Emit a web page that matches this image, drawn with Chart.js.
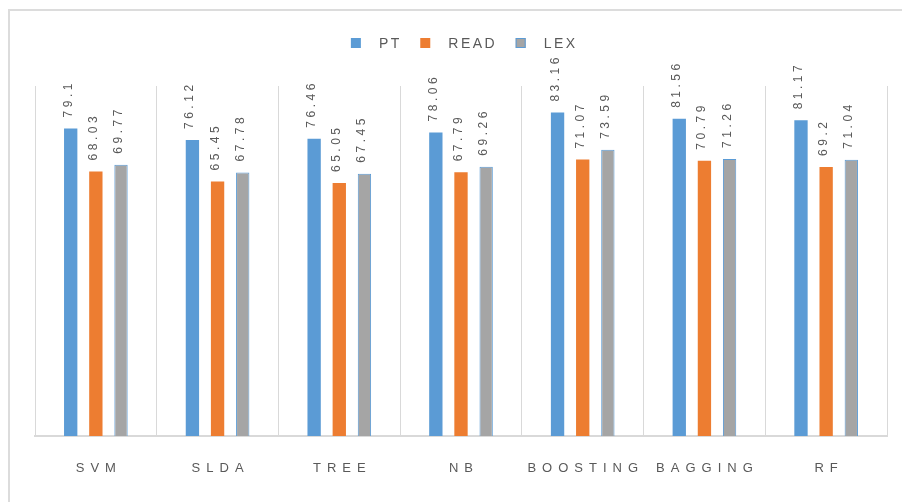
<!DOCTYPE html>
<html>
<head>
<meta charset="utf-8">
<title>Classifier scores by feature set</title>
<script src="https://cdn.jsdelivr.net/npm/chart.js@4.4.1/dist/chart.umd.min.js"></script>
<style>
  html, body { margin: 0; padding: 0; background: #ffffff; }
  #wrap { width: 902px; height: 502px; position: relative; }
  canvas { display: block; }
</style>
</head>
<body>
<div id="wrap"><canvas id="chart" width="902" height="502"></canvas></div>
<script>
// Classifiers on the category axis
const categories = ['SVM', 'SLDA', 'TREE', 'NB', 'BOOSTING', 'BAGGING', 'RF'];

// Scores per feature set
const ptValues   = [79.1, 76.12, 76.46, 78.06, 83.16, 81.56, 81.17];
const readValues = [68.03, 65.45, 65.05, 67.79, 71.07, 70.79, 69.2];
const lexValues  = [69.77, 67.78, 67.45, 69.26, 73.59, 71.26, 71.04];

const seriesNames = ['PT', 'READ', 'LEX'];

const TEXT = '#595959';
const GRID = '#d9d9d9';
const FONT = '"Liberation Sans", Arial, sans-serif';

// Frame, legend, category labels and value labels
const decorations = {
  id: 'decorations',
  beforeDraw(chart) {
    const ctx = chart.ctx;
    ctx.save();
    ctx.fillStyle = '#ffffff';
    ctx.fillRect(0, 0, chart.width, chart.height);
    ctx.strokeStyle = '#dcdcdc';
    ctx.lineWidth = 2;
    ctx.beginPath();
    ctx.moveTo(9, chart.height);
    ctx.lineTo(9, 10);
    ctx.lineTo(chart.width, 10);
    ctx.stroke();
    ctx.restore();
  },
  afterDatasetsDraw(chart) {
    const ctx = chart.ctx;
    // value labels, rotated, just above each bar
    ctx.save();
    ctx.fillStyle = TEXT;
    ctx.font = '12px ' + FONT;
    ctx.letterSpacing = '3.5px';
    ctx.textAlign = 'left';
    ctx.textBaseline = 'alphabetic';
    chart.data.datasets.forEach((ds, di) => {
      const meta = chart.getDatasetMeta(di);
      meta.data.forEach((bar, i) => {
        ctx.save();
        ctx.translate(bar.x + 1, bar.y - 11);
        ctx.rotate(-Math.PI / 2);
        ctx.fillText(String(ds.data[i]), 0, 0);
        ctx.restore();
      });
    });
    ctx.restore();
  },
  afterDraw(chart) {
    const ctx = chart.ctx;
    const xs = chart.scales.x;
    // category labels with wide tracking
    ctx.save();
    ctx.fillStyle = TEXT;
    ctx.font = '13px ' + FONT;
    const ls = 6;
    ctx.letterSpacing = ls + 'px';
    ctx.textAlign = 'center';
    ctx.textBaseline = 'middle';
    categories.forEach((c, i) => {
      ctx.fillText(c, xs.getPixelForValue(i) + ls / 2, 468);
    });
    ctx.restore();

    // legend
    ctx.save();
    ctx.font = '14px ' + FONT;
    ctx.letterSpacing = '2.5px';
    ctx.textBaseline = 'middle';
    ctx.textAlign = 'left';
    const box = 10, toText = 18, toNext = 21;
    const items = chart.data.datasets.map(ds => ({
      ds, w: ctx.measureText(ds.label).width - 2.5
    }));
    let total = 0;
    items.forEach((it, k) => {
      total += box + toText + it.w + (k < items.length - 1 ? toNext : 0);
    });
    let x = 463 - total / 2;
    const cy = 43;
    items.forEach(it => {
      ctx.fillStyle = it.ds.backgroundColor;
      ctx.fillRect(x, cy - box / 2, box, box);
      if (it.ds.borderWidth) {
        ctx.strokeStyle = it.ds.borderColor;
        ctx.lineWidth = 1;
        ctx.strokeRect(x + 0.5, cy - box / 2 + 0.5, box - 1, box - 1);
      }
      ctx.fillStyle = TEXT;
      ctx.fillText(it.ds.label, x + box + toText, cy + 1);
      x += box + toText + it.w + toNext;
    });
    ctx.restore();
  }
};

new Chart(document.getElementById('chart'), {
  type: 'bar',
  data: {
    labels: categories,
    datasets: [
      { label: seriesNames[0], data: ptValues, backgroundColor: '#5b9bd5', borderWidth: 0 },
      { label: seriesNames[1], data: readValues, backgroundColor: '#ed7d31', borderWidth: 0 },
      { label: seriesNames[2], data: lexValues, backgroundColor: '#a5a5a5', borderColor: '#5b9bd5', borderWidth: 1 }
    ]
  },
  options: {
    responsive: false,
    animation: false,
    events: [],
    layout: { padding: { left: 35, right: 15, top: 86, bottom: 66 } },
    datasets: {
      bar: { categoryPercentage: 0.62, barPercentage: 0.53 }
    },
    plugins: {
      legend: { display: false },
      tooltip: { enabled: false },
      title: { display: false }
    },
    scales: {
      x: {
        display: true,
        offset: true,
        ticks: { display: false },
        grid: { display: true, offset: true, color: GRID, lineWidth: 1, drawTicks: false },
        border: { display: true, color: GRID, width: 2 }
      },
      y: {
        display: false,
        min: 0,
        max: 90
      }
    }
  },
  plugins: [decorations]
});
</script>
</body>
</html>
